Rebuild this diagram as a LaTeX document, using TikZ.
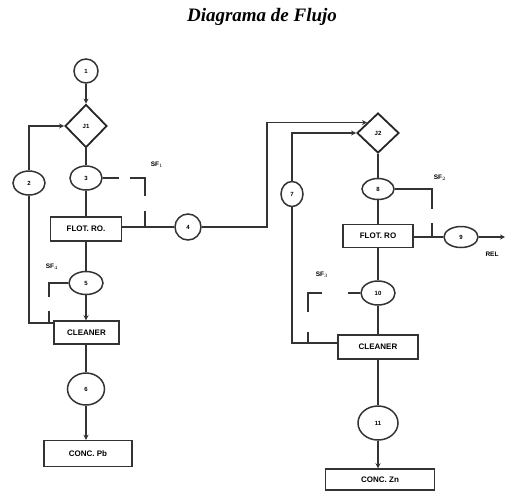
\documentclass[tikz,border=0pt]{standalone}
\usepackage{fontspec}
\setmainfont{Liberation Serif}
\newfontfamily\lab{Liberation Sans}
\usetikzlibrary{shapes.geometric,arrows.meta,calc}
\begin{document}
\begin{tikzpicture}[x=1pt,y=-1pt,
  ln/.style={line width=1.6pt,draw=black!80},
  arr/.style={ln,-{Stealth[length=5pt,width=5pt]}},
  ell/.style={ellipse,draw=black!80,line width=1.5pt,inner sep=0pt,font=\lab\bfseries\fontsize{6}{7}\selectfont},
  boxn/.style={rectangle,draw=black!80,line width=1.5pt,inner sep=0pt,font=\lab\bfseries\fontsize{8}{9}\selectfont},
  dia/.style={diamond,draw=black!85,line width=1.8pt,inner sep=0pt,font=\lab\bfseries\fontsize{6}{7}\selectfont},
  lbl/.style={font=\lab\bfseries\fontsize{6.5}{7}\selectfont,inner sep=0pt}]
\useasboundingbox (0,0) rectangle (505,491);
\node[font=\bfseries\itshape\fontsize{19}{21}\selectfont] (title) at (262,17) {Diagrama de Flujo};
% left column
\node[ell,minimum width=24,minimum height=24] (c1) at (86,71) {1};
\node[dia,minimum width=42,minimum height=43] (j1) at (86,126) {J1};
\node[ell,minimum width=32,minimum height=24] (e2) at (29,183) {2};
\node[ell,minimum width=32,minimum height=24] (e3) at (86,178) {3};
\node[boxn,minimum width=71,minimum height=24] (f1) at (86,229) {FLOT. RO.};
\node[ell,minimum width=26,minimum height=26] (e4) at (188,227) {4};
\node[ell,minimum width=34,minimum height=23] (e5) at (86,283) {5};
\node[boxn,minimum width=65,minimum height=23] (cl1) at (86.5,332.5) {CLEANER};
\node[ell,minimum width=37,minimum height=32] (e6) at (86,389) {6};
\node[boxn,minimum width=88,minimum height=26] (pb) at (88,453.5) {CONC. Pb};
% right column
\node[dia,minimum width=42,minimum height=40] (j2) at (378,133) {J2};
\node[ell,minimum width=22,minimum height=25] (e7) at (292,194) {7};
\node[ell,minimum width=32,minimum height=21] (e8) at (378,189) {8};
\node[boxn,minimum width=70,minimum height=23] (f2) at (378,236) {FLOT. RO};
\node[ell,minimum width=34,minimum height=21] (e9) at (461,237) {9};
\node[ell,minimum width=34,minimum height=24] (e10) at (378,293) {10};
\node[boxn,minimum width=80,minimum height=24] (cl2) at (378,347) {CLEANER};
\node[ell,minimum width=40,minimum height=34] (e11) at (378,423) {11};
\node[boxn,minimum width=109,minimum height=21] (zn) at (380,479.5) {CONC. Zn};
% labels
\node[lbl] (sf1) at (157,165) {SF$_1$};
\node[lbl] (sf4) at (52,267) {SF$_4$};
\node[lbl] (sf2) at (440,178) {SF$_2$};
\node[lbl] (sf3) at (322,275) {SF$_3$};
\node[lbl] (rel) at (492,254) {REL};
% coordinates
\coordinate (l1) at (29,323);
\coordinate (l1t) at (29,126);
\coordinate (cl1w) at (54,323);
\coordinate (k4) at (267,227);
\coordinate (l2) at (292,343);
\coordinate (cl2w) at (338,343);
\coordinate (j3) at (145,227);
\coordinate (j5) at (49,323);
\coordinate (j9) at (432,237);
\coordinate (j10) at (308,343);
\coordinate (out9) at (505,237);
% main flow left
\draw[arr] (c1) -- (j1);
\draw[ln] (j1) -- (e3);
\draw[ln] (e3) -- (f1);
\draw[ln] (f1) -- (e5);
\draw[arr] (e5) -- (e5 |- cl1.north);
\draw[ln] (cl1.south -| e6) -- (e6);
\draw[arr] (e6) -- (e6 |- pb.north);
\draw[ln] (cl1w) -- (l1) -- (e2);
\draw[arr] (e2) -- (l1t) -- (j1.west);
\draw[ln] (f1.east |- e4) -- (e4);
\draw[arr] (e4) -- (k4) |- (j2.north west);
% main flow right
\draw[ln] (j2) -- (e8);
\draw[ln] (e8) -- (f2);
\draw[ln] (f2) -- (e10);
\draw[ln] (e10) -- (cl2);
\draw[ln] (cl2) -- (e11);
\draw[arr] (e11) -- (e11 |- zn.north);
\draw[ln] (cl2w) -- (l2) -- (e7);
\draw[arr] (e7) |- (j2.west);
\draw[ln] (f2.east |- e9) -- (e9);
\draw[arr] (e9) -- (out9);
% side feeds
\draw[ln,dash pattern=on 16pt off 11pt on 33pt off 15pt on 20pt] (e3.east) -| (j3);
\draw[ln,dash pattern=on 33pt off 14pt on 20pt] (e5.west) -| (j5);
\draw[ln,dash pattern=on 57pt off 14pt on 20pt] (e8.east) -| (j9);
\draw[ln,dash pattern=on 12pt off 26pt on 33pt off 20pt on 20pt] (e10.west) -| (j10);
\end{tikzpicture}
\end{document}
